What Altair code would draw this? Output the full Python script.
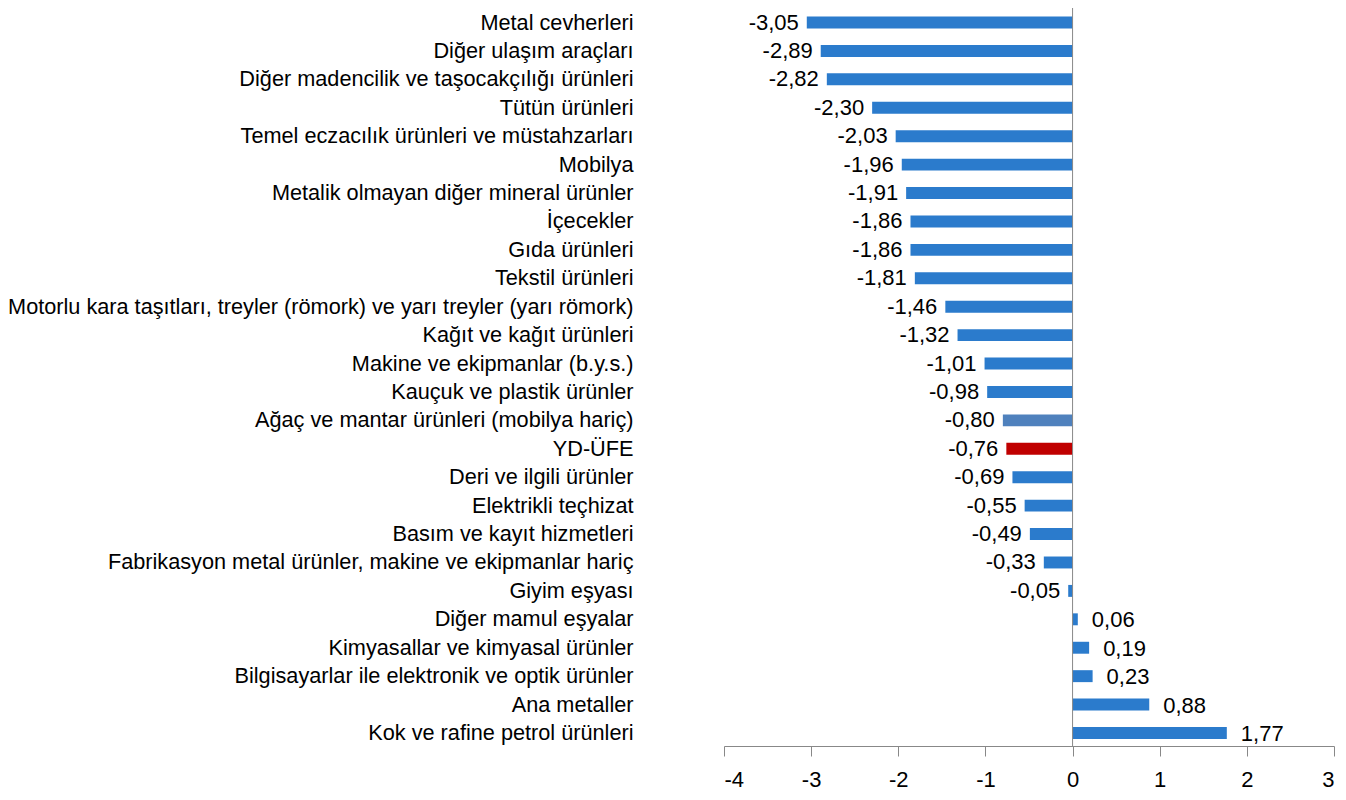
import altair as alt
import pandas as pd

categories = [
    "Metal cevherleri",
    "Diğer ulaşım araçları",
    "Diğer madencilik ve taşocakçılığı ürünleri",
    "Tütün ürünleri",
    "Temel eczacılık ürünleri ve müstahzarları",
    "Mobilya",
    "Metalik olmayan diğer mineral ürünler",
    "İçecekler",
    "Gıda ürünleri",
    "Tekstil ürünleri",
    "Motorlu kara taşıtları, treyler (römork) ve yarı treyler (yarı römork)",
    "Kağıt ve kağıt ürünleri",
    "Makine ve ekipmanlar (b.y.s.)",
    "Kauçuk ve plastik ürünler",
    "Ağaç ve mantar ürünleri (mobilya hariç)",
    "YD-ÜFE",
    "Deri ve ilgili ürünler",
    "Elektrikli teçhizat",
    "Basım ve kayıt hizmetleri",
    "Fabrikasyon metal ürünler, makine ve ekipmanlar hariç",
    "Giyim eşyası",
    "Diğer mamul eşyalar",
    "Kimyasallar ve kimyasal ürünler",
    "Bilgisayarlar ile elektronik ve optik ürünler",
    "Ana metaller",
    "Kok ve rafine petrol ürünleri",
]
values = [
    -3.05, -2.89, -2.82, -2.30, -2.03, -1.96, -1.91, -1.86, -1.86, -1.81,
    -1.46, -1.32, -1.01, -0.98, -0.80, -0.76, -0.69, -0.55, -0.49, -0.33,
    -0.05, 0.06, 0.19, 0.23, 0.88, 1.77,
]
x_ticks = [-4, -3, -2, -1, 0, 1, 2, 3]

FONT = "Liberation Sans"
CAT_FS = 21.7
FS = 22


def group_of(c):
    if c == "YD-ÜFE":
        return "total"
    if c.startswith("Ağaç"):
        return "wood"
    return "sector"


df = pd.DataFrame({"cat": categories, "val": values})
df["grp"] = df["cat"].map(group_of)
df["lbl"] = df["val"].map(lambda v: f"{v:.2f}".replace(".", ","))

TOP = 0
H = 738
first_center = 14.5
last_center = 725
step = (last_center - first_center) / 25
y_scale = alt.Scale(
    domain=categories,
    range=[first_center - step / 2, last_center + step / 2],
    paddingInner=0.58,
    paddingOuter=0.29,
)
x_scale = alt.Scale(domain=[-4, 3], nice=False, zero=False)

base = alt.Chart(df)

bars = base.mark_bar().encode(
    y=alt.Y(
        "cat:N",
        sort=None,
        scale=y_scale,
        title=None,
        axis=alt.Axis(
            ticks=False,
            domain=False,
            labelPadding=91,
            labelFontSize=CAT_FS,
            labelFont=FONT,
            labelColor="#000000",
            labelLimit=0,
        ),
    ),
    x=alt.X(
        "val:Q",
        scale=x_scale,
        title=None,
        axis=alt.Axis(
            values=x_ticks,
            grid=False,
            domainColor="#888888",
            tickColor="#888888",
            tickSize=10,
            labelFontSize=FS,
            labelFont=FONT,
            labelColor="#000000",
            labelPadding=13,
            labelExpr="datum.value < 0 ? '-' + abs(datum.value) : '' + datum.value",
        ),
    ),
    color=alt.Color(
        "grp:N",
        scale=alt.Scale(
            domain=["sector", "wood", "total"],
            range=["#2B7BCC", "#4F81BD", "#C00000"],
        ),
        legend=None,
    ),
)

zero = alt.Chart(pd.DataFrame({"z": [0]})).mark_rule(color="#888888", strokeWidth=1).encode(
    x=alt.X("z:Q", scale=x_scale)
)

neg_text = base.transform_filter("datum.val < 0").mark_text(
    align="right", baseline="middle", dx=-8, font=FONT, fontSize=FS, color="#000000"
).encode(
    y=alt.Y("cat:N", sort=None, scale=y_scale),
    x=alt.X("val:Q", scale=x_scale),
    text="lbl:N",
)

pos_text = base.transform_filter("datum.val >= 0").mark_text(
    align="left", baseline="middle", dx=14, dy=1, font=FONT, fontSize=FS, color="#000000"
).encode(
    y=alt.Y("cat:N", sort=None, scale=y_scale),
    x=alt.X("val:Q", scale=x_scale),
    text="lbl:N",
)

chart = (
    alt.layer(bars, zero, neg_text, pos_text)
    .properties(
        width=610,
        height=H,
        autosize=alt.AutoSizeParams(type="none"),
        padding={"left": 716, "top": TOP, "right": 4, "bottom": 46},
        background="#ffffff",
    )
    .configure_view(stroke=None)
)

chart.save("out.html", embed_options={"renderer": "svg", "actions": False})
